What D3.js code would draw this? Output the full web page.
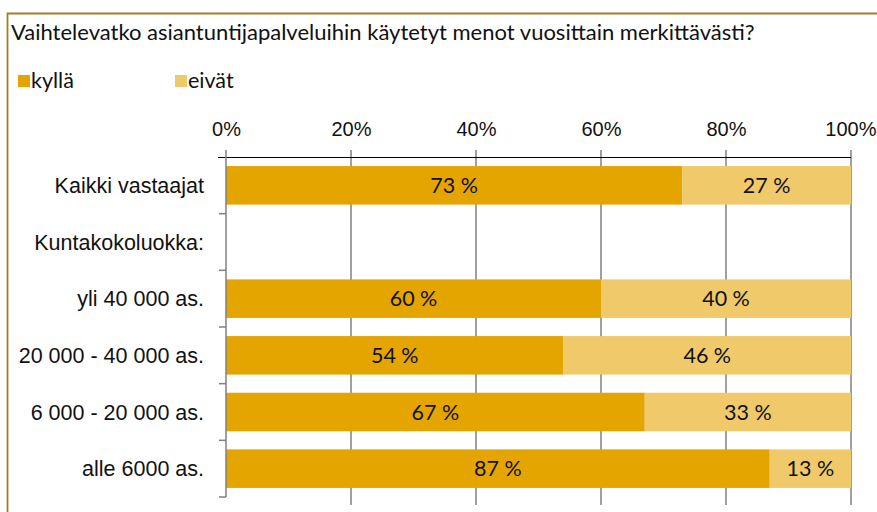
<!doctype html>
<html>
<head>
<meta charset="utf-8">
<script src="https://cdnjs.cloudflare.com/ajax/libs/d3/7.8.5/d3.min.js"></script>
<style>
  body { margin: 0; background: #fff; }
  svg { display: block; font-family: Lato, "Noto Sans", sans-serif; }
</style>
</head>
<body>
<script>
// data
var categories = ["Kaikki vastaajat", "Kuntakokoluokka:", "yli 40 000 as.", "20 000 - 40 000 as.", "6 000 - 20 000 as.", "alle 6000 as."];
var kylla = [73, null, 60, 54, 67, 87];
var eivat = [27, null, 40, 46, 33, 13];
var seriesNames = ["kyllä", "eivät"];
var seriesColors = ["#e5a500", "#f0c96a"];
var tickValues = [0, 20, 40, 60, 80, 100];

var width = 877, height = 512;
var fs = 21.5;
var svg = d3.select("body").append("svg")
    .attr("width", width)
    .attr("height", height);

// frame
svg.append("path")
    .attr("d", "M7.5," + height + "V13.5H" + width)
    .attr("fill", "none")
    .attr("stroke", "#a47c28")
    .attr("stroke-width", 1.8);

// title
svg.append("text")
    .attr("x", 11).attr("y", 40)
    .attr("font-size", 22)
    .attr("fill", "#111")
    .text("Vaihtelevatko asiantuntijapalveluihin käytetyt menot vuosittain merkittävästi?");

// legend
var legendX = [18, 175];
seriesNames.forEach(function(name, i){
    var g = svg.append("g").attr("transform", "translate(" + legendX[i] + ",75)");
    g.append("rect").attr("width", 12).attr("height", 12).attr("fill", seriesColors[i]);
    g.append("text").attr("x", 13).attr("y", 13).attr("font-size", fs).attr("fill", "#111").text(name);
});

var x = d3.scaleLinear().domain([0, 100]).range([226, 851]);
var y = d3.scaleBand().domain(categories).range([157, 497]).paddingInner(0.32).paddingOuter(0.16);
var yTicks = d3.scaleBand().domain(categories).range([157, 497]);

// gridlines
svg.append("g")
    .selectAll("line")
    .data(tickValues.slice(1))
    .join("line")
    .attr("x1", d => x(d)).attr("x2", d => x(d))
    .attr("y1", 150).attr("y2", 505)
    .attr("stroke", "#808080").attr("stroke-width", 1.5);

// top axis
var xAxis = d3.axisTop(x).tickValues(tickValues).tickFormat(d => d + "%").tickSize(0).tickPadding(21);
var gx = svg.append("g").attr("transform", "translate(0,157)").call(xAxis);
gx.select(".domain").remove();
gx.selectAll("text").attr("font-size", 20).attr("fill", "#111").attr("font-family", null);
gx.selectAll(".tick").filter(d => d === 100).select("text").attr("text-anchor", "end").attr("x", 25);
svg.append("line")
    .attr("x1", 218).attr("x2", x(100))
    .attr("y1", 157.5).attr("y2", 157.5)
    .attr("stroke", "#000").attr("stroke-width", 1.2);

// bars
var rows = categories.map(function(c, i){ return {cat: c, a: kylla[i], b: eivat[i]}; }).filter(d => d.a != null);

var barG = svg.append("g");
rows.forEach(function(d){
    var segs = [{v0: 0, v1: d.a, c: seriesColors[0]}, {v0: d.a, v1: d.a + d.b, c: seriesColors[1]}];
    segs.forEach(function(s){
        barG.append("rect")
            .attr("x", x(s.v0))
            .attr("y", y(d.cat))
            .attr("width", x(s.v1) - x(s.v0))
            .attr("height", y.bandwidth())
            .attr("fill", s.c);
        barG.append("text")
            .attr("x", (x(s.v0) + x(s.v1)) / 2)
            .attr("y", y(d.cat) + y.bandwidth() / 2)
            .attr("dy", "0.36em")
            .attr("text-anchor", "middle")
            .attr("font-size", fs)
            .attr("fill", "#111")
            .text((s.v1 - s.v0) + " %");
    });
});

// left axis
var yAxis = d3.axisLeft(yTicks).tickSize(0).tickPadding(22);
var gy = svg.append("g").attr("transform", "translate(226,0)").call(yAxis);
gy.select(".domain").remove();
gy.selectAll("text").attr("font-size", fs).attr("fill", "#111").attr("font-family", null).attr("dy", "0.36em");
svg.append("line")
    .attr("x1", 226).attr("x2", 226)
    .attr("y1", 150).attr("y2", 497)
    .attr("stroke", "#808080").attr("stroke-width", 1.5);
svg.append("g")
    .selectAll("line")
    .data(categories)
    .join("line")
    .attr("x1", 219).attr("x2", 226)
    .attr("y1", d => yTicks(d) + yTicks.step()).attr("y2", d => yTicks(d) + yTicks.step())
    .attr("stroke", "#808080").attr("stroke-width", 1.5);
</script>
</body>
</html>
